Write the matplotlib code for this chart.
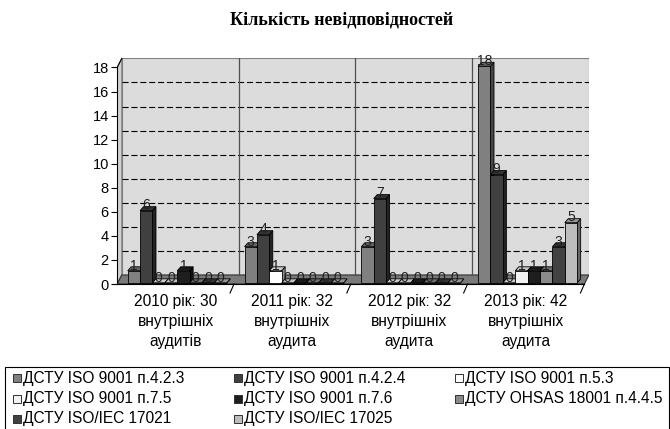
import numpy as np
import matplotlib.pyplot as plt
from matplotlib.patches import Polygon, Rectangle
from matplotlib.colors import to_rgb

plt.rcParams['font.family'] = ['Liberation Sans', 'DejaVu Sans']

title = "Кількість невідповідностей"
categories = [
    "2010 рік: 30\nвнутрішніх\nаудитів",
    "2011 рік: 32\nвнутрішніх\nаудита",
    "2012 рік: 32\nвнутрішніх\nаудита",
    "2013 рік: 42\nвнутрішніх\nаудита",
]
series_names = [
    "ДСТУ ISO 9001 п.4.2.3",
    "ДСТУ ISO 9001 п.4.2.4",
    "ДСТУ ISO 9001 п.5.3",
    "ДСТУ ISO 9001 п.7.5",
    "ДСТУ ISO 9001 п.7.6",
    "ДСТУ OHSAS 18001 п.4.4.5",
    "ДСТУ ISO/IEC 17021",
    "ДСТУ ISO/IEC 17025",
]
series_values = [
    [1, 3, 3, 18],
    [6, 4, 7, 9],
    [0, 1, 0, 0],
    [0, 0, 0, 1],
    [1, 0, 0, 1],
    [0, 0, 0, 1],
    [0, 0, 0, 3],
    [0, 0, 0, 5],
]
series_colors = ['#808080', '#404040', '#ffffff', '#f2f2f2',
                 '#1e1e1e', '#8a8a8a', '#424242', '#bdbdbd']
y_ticks = list(range(0, 19, 2))

# pseudo-3d geometry (data units)
DX, DY = 0.039, 0.75       # wall depth
BAR_W, OFF = 0.106, 0.09   # bar width, offset inside group
BDX, BDY = 0.03, 0.33      # bar depth
BASE = 0.1


def shade(c, f):
    r, g, b = to_rgb(c)
    return (r * f, g * f, b * f)


def draw_bar(ax, x, v, color):
    top = BASE + v
    ec = '#000000'
    ax.add_patch(Polygon([(x + BAR_W, BASE), (x + BAR_W + BDX, BASE + BDY),
                          (x + BAR_W + BDX, top + BDY), (x + BAR_W, top)],
                         fc=shade(color, 0.55), ec=ec, lw=0.6, zorder=3))
    ax.add_patch(Rectangle((x, BASE), BAR_W, v, fc=color, ec=ec, lw=0.6, zorder=3))
    ax.add_patch(Polygon([(x, top), (x + BAR_W, top), (x + BAR_W + BDX, top + BDY),
                          (x + BDX, top + BDY)],
                         fc=shade(color, 0.8), ec=ec, lw=0.6, zorder=3))


fig = plt.figure(figsize=(6.7, 4.29), dpi=100)
px_x, px_y = 116.8, 12.03
ax = fig.add_axes([117.2 / 670, (429 - 284) / 429,
                   (4 + DX) * px_x / 670, (18 + DY) * px_y / 429])
ax.set_xlim(0, 4 + DX)
ax.set_ylim(0, 18 + DY)
ax.patch.set_visible(False)

# walls and floor
ax.add_patch(Polygon([(0, 0), (DX, DY), (DX, 18 + DY), (0, 18)],
                     fc='#d2d2d2', ec='#808080', lw=0.8, zorder=0))
ax.add_patch(Rectangle((DX, DY), 4, 18, fc='#dcdcdc', ec='#808080', lw=0.8, zorder=0))
ax.add_patch(Polygon([(0, 0), (4, 0), (4 + DX, DY), (DX, DY)],
                     fc='#7a7a7a', ec='#303030', lw=0.8, zorder=1))

for v in y_ticks[1:-1]:
    ax.plot([DX, 4 + DX], [v + DY, v + DY], color='black', lw=0.8,
            dashes=(5.5, 2.5), zorder=1)
for k in range(1, len(categories)):
    ax.plot([k + DX, k + DX], [DY, 18 + DY], color='#505050', lw=0.9, zorder=1)

# axes lines
for s in ['top', 'right']:
    ax.spines[s].set_visible(False)
ax.spines['left'].set_bounds(0, 18)
ax.spines['bottom'].set_bounds(0, 4)
ax.spines['left'].set_linewidth(0.8)
ax.spines['bottom'].set_linewidth(0.8)
ax.plot([0, DX], [18, 18 + DY], color='black', lw=0.8, clip_on=False)
for k in range(1, len(categories) + 1):
    ax.plot([k - 0.034, k], [-0.75, 0], color='black', lw=0.8, clip_on=False)

ax.set_yticks(y_ticks)
ax.tick_params(axis='y', direction='out', length=4, width=0.8, labelsize=10.5, pad=2)
ax.set_xticks(np.arange(len(categories)) + 0.5)
ax.set_xticklabels(categories, fontsize=11.2, linespacing=1.42)
ax.tick_params(axis='x', length=0, pad=7)

# bars
for i, vals in enumerate(series_values):
    for j, v in enumerate(vals):
        x = j + OFF + i * BAR_W
        draw_bar(ax, x, v, series_colors[i])
for i, vals in enumerate(series_values):
    for j, v in enumerate(vals):
        x = j + OFF + i * BAR_W
        ax.text(x + BAR_W / 2, BASE + v + 0.1, str(v), ha='center', va='baseline',
                fontsize=10, color='#202020', zorder=5)

fig.text(342 / 670, 1 - 20 / 429, title, ha='center', va='center',
         family='Liberation Serif', weight='bold', fontsize=13)

# legend
fig.patches.append(Rectangle((5 / 670, -0.02), 664 / 670, (429 - 367) / 429 + 0.02,
                             transform=fig.transFigure, fill=False, ec='black', lw=0.8))
for idx, (name, color) in enumerate(zip(series_names, series_colors)):
    row, col = divmod(idx, 3)
    mx = 12.7 + col * 221
    my = 378 + row * 20.5
    fig.patches.append(Rectangle((mx / 670, 1 - (my + 4) / 429), 8 / 670, 8 / 429,
                                 transform=fig.transFigure, fc=color, ec='#303030', lw=0.7))
    fig.text((mx + 10) / 670, 1 - my / 429, name, ha='left', va='center', fontsize=11.2)

fig.savefig('out.png', dpi=100)
